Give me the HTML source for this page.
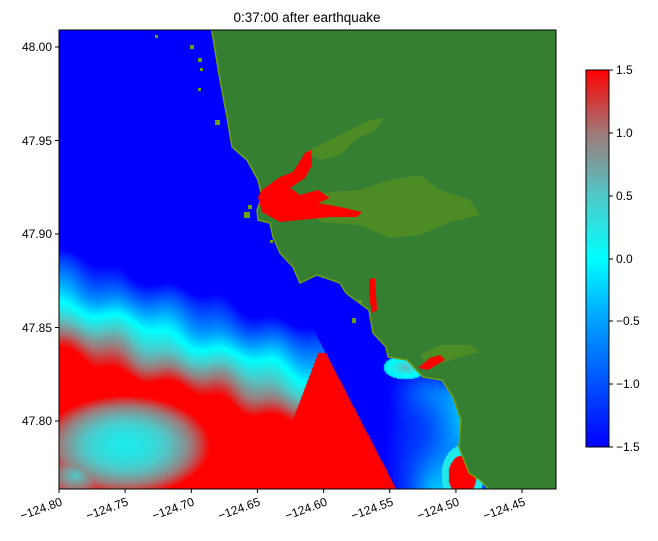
<!DOCTYPE html>
<html><head><meta charset="utf-8"><style>
body{margin:0;width:658px;height:541px;background:#fff;position:relative;overflow:hidden;font-family:"Liberation Sans",sans-serif;}
#c{position:absolute;left:59px;top:30px;}
svg{position:absolute;left:0;top:0;}
</style></head><body>
<canvas id="c" width="497" height="459"></canvas>
<svg width="658" height="541" viewBox="0 0 658 541">
<defs>
<linearGradient id="cb" x1="0" y1="1" x2="0" y2="0">
<stop offset="0" stop-color="rgb(0,0,255)"/>
<stop offset="0.1667" stop-color="rgb(0,80,255)"/>
<stop offset="0.3333" stop-color="rgb(0,160,255)"/>
<stop offset="0.5" stop-color="rgb(0,255,255)"/>
<stop offset="0.6667" stop-color="rgb(80,200,200)"/>
<stop offset="0.8333" stop-color="rgb(160,120,120)"/>
<stop offset="1" stop-color="rgb(255,0,0)"/>
</linearGradient>
<clipPath id="pa"><rect x="59" y="30" width="497" height="459"/></clipPath>
</defs>
<g clip-path="url(#pa)">
<polygon fill="#357f33" stroke="#6f9e12" stroke-width="1.5" points="212,28 560,28 560,492 492,492 480,480 469,473 459,447 461,420 453,397 442,380 423,377 407,360 388,357 386,347 373,333 369,310 346,293 340,283 317,275 300,283 293,267 280,253 273,237 270,223 258,220 257,210 262,197 258,180 247,160 232,147 227,117 220,80 212,32"/>
<g fill="#6a9c15" opacity="0.45">
<polygon points="300,200 330,192 360,190 390,180 420,175 440,190 470,200 480,215 450,222 420,235 390,238 360,225 320,222"/>
<polygon points="305,152 330,140 350,130 370,120 385,118 375,130 355,140 340,155 320,160"/>
<polygon points="420,355 440,345 470,345 480,352 450,360 430,368"/>
</g>
<g fill="#ff0000">
<polygon points="258,197 262,212 280,222 300,220 330,217 357,217 362,212 340,207 318,203 330,198 318,190 300,195 290,188 305,178 312,165 311,150 305,153 293,172 280,177 262,190"/>
<polygon points="369,279 375,278 377,310 372,313 369,296"/>
<polygon points="418,368 430,358 440,355 445,360 428,370"/>
</g>
<g fill="#6f9e12">
<rect x="244" y="212" width="6" height="6"/><rect x="248" y="205" width="4" height="4"/>
<rect x="190" y="45" width="4" height="4"/><rect x="198" y="58" width="4" height="4"/><rect x="200" y="68" width="3" height="3"/>
<rect x="198" y="88" width="3" height="3"/><rect x="215" y="120" width="5" height="5"/><rect x="155" y="35" width="3" height="3"/>
<rect x="352" y="318" width="4" height="5"/><rect x="359" y="300" width="3" height="3"/><rect x="270" y="240" width="3" height="3"/>
</g>
</g>
<rect x="59" y="30" width="497" height="459" fill="none" stroke="#000" stroke-width="1"/>
<g stroke="#000" stroke-width="1">
<line x1="59" y1="489" x2="59" y2="493"/><line x1="125.1" y1="489" x2="125.1" y2="493"/><line x1="191.3" y1="489" x2="191.3" y2="493"/><line x1="257.4" y1="489" x2="257.4" y2="493"/><line x1="323.6" y1="489" x2="323.6" y2="493"/><line x1="389.7" y1="489" x2="389.7" y2="493"/><line x1="455.9" y1="489" x2="455.9" y2="493"/><line x1="522" y1="489" x2="522" y2="493"/>
<line x1="55" y1="47" x2="59" y2="47"/><line x1="55" y1="140.5" x2="59" y2="140.5"/><line x1="55" y1="234" x2="59" y2="234"/><line x1="55" y1="327.5" x2="59" y2="327.5"/><line x1="55" y1="421" x2="59" y2="421"/>
</g>
<g font-size="12" fill="#000" text-anchor="end">
<text x="52" y="51">48.00</text><text x="52" y="145">47.95</text><text x="52" y="238">47.90</text><text x="52" y="332">47.85</text><text x="52" y="425">47.80</text>
</g>
<g font-size="12" fill="#000" text-anchor="end">
<text transform="translate(63,505) rotate(-20)">−124.80</text>
<text transform="translate(129,505) rotate(-20)">−124.75</text>
<text transform="translate(195,505) rotate(-20)">−124.70</text>
<text transform="translate(261,505) rotate(-20)">−124.65</text>
<text transform="translate(328,505) rotate(-20)">−124.60</text>
<text transform="translate(394,505) rotate(-20)">−124.55</text>
<text transform="translate(460,505) rotate(-20)">−124.50</text>
<text transform="translate(526,505) rotate(-20)">−124.45</text>
</g>
<text x="307" y="22" font-size="13.5" text-anchor="middle">0:37:00 after earthquake</text>
<rect x="586" y="70" width="23" height="377" fill="url(#cb)" stroke="#000" stroke-width="1"/>
<g stroke="#000"><line x1="609" y1="70" x2="613" y2="70"/><line x1="609" y1="133" x2="613" y2="133"/><line x1="609" y1="196" x2="613" y2="196"/><line x1="609" y1="259" x2="613" y2="259"/><line x1="609" y1="321" x2="613" y2="321"/><line x1="609" y1="384" x2="613" y2="384"/><line x1="609" y1="447" x2="613" y2="447"/></g>
<g font-size="12"><text x="616" y="74">1.5</text><text x="616" y="137">1.0</text><text x="616" y="200">0.5</text><text x="616" y="263">0.0</text><text x="616" y="325">−0.5</text><text x="616" y="388">−1.0</text><text x="616" y="451">−1.5</text></g>
</svg>
<script>
(function(){
var c=document.getElementById('c'),ctx=c.getContext('2d'),W=497,H=459;
var img=ctx.createImageData(W,H),d=img.data;
var st=[[-1.5,0,0,255],[-1,0,80,255],[-0.5,0,160,255],[0,0,255,255],[0.5,80,200,200],[1,160,120,120],[1.5,255,0,0]];
function cm(v){if(v<=-1.5)return st[0].slice(1);if(v>=1.5)return st[6].slice(1);
for(var i=0;i<6;i++){if(v<=st[i+1][0]){var t=(v-st[i][0])/0.5;return [st[i][1]+t*(st[i+1][1]-st[i][1]),st[i][2]+t*(st[i+1][2]-st[i][2]),st[i][3]+t*(st[i+1][3]-st[i][3])];}}}
function ss(a,b,t){t=(t-a)/(b-a);t=t<0?0:t>1?1:t;return t*t*(3-2*t);}
for(var j=0;j<H;j++)for(var i=0;i<W;i++){
var x=i+59,y=j+30,v=-1.5;
var lx=325+(y-352)*(71/137);
if(y>225 && x<lx){
var tp=252+0.3*(x-59);
var dd=y-tp+4*Math.sin(x*0.12)+3*Math.sin(y*0.07+x*0.03);
if(dd<0)v=-1.5;else if(dd<50)v=-1.5+1.5*dd/50;else if(dd<100)v=1.5*(dd-50)/50;else v=1.5;
var lb=318-(y-352)*0.38;
if(x>lb&&y>352)v=Math.max(v,1.5*ss(lb-25,lb,x));
var r=Math.hypot((x-125)/85,(y-445)/50);if(r<1)v=Math.min(v,0.2+1.3*r*r);
var r2=Math.hypot((x-75)/35,(y-475)/25);if(r2<1)v=Math.min(v,0.5+r2);
} else if(x>=lx && y>340){
var k=(Math.sin(x*0.07+y*0.03)+Math.sin(y*0.05-x*0.04))*0.2;
var f=ss(380,440,x)*ss(360,400,y);
v=-1.5+f*(0.9+k);
var g=Math.hypot((x-405)/22,(y-367)/12);if(g<1)v=Math.max(v,0.6-0.8*g);
var rr=Math.hypot((x-462)/14,(y-475)/20);if(rr<1)v=1.5;else if(rr<1.5)v=Math.max(v,0.2);
}
var col=cm(v),p=(j*W+i)*4;d[p]=col[0];d[p+1]=col[1];d[p+2]=col[2];d[p+3]=255;}
ctx.putImageData(img,0,0);
})();
</script>
</body></html>
